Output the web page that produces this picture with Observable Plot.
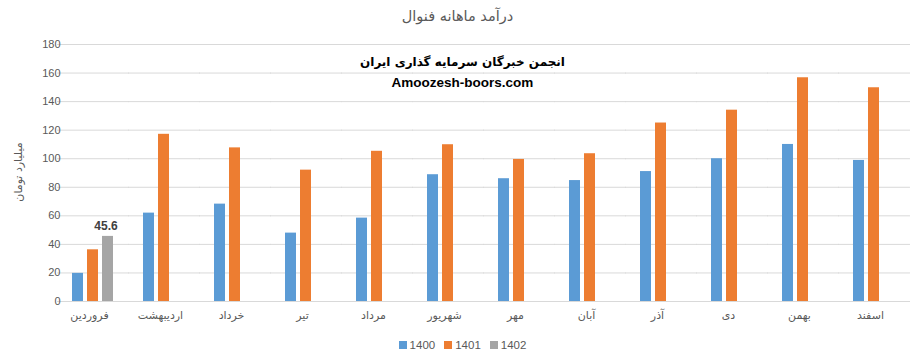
<!DOCTYPE html>
<html><head><meta charset="utf-8">
<script src="https://cdn.jsdelivr.net/npm/d3@7"></script>
<script src="https://cdn.jsdelivr.net/npm/@observablehq/plot@0.6"></script>
<style>
html,body{margin:0;padding:0;background:#fff;}
#wrap{position:relative;width:915px;height:361px;font-family:"Liberation Sans","DejaVu Sans",sans-serif;}
#title{height:30px;line-height:32px;text-align:center;font-size:14.5px;color:#595959;font-family:"DejaVu Sans",sans-serif;}
#legend{height:28px;display:flex;justify-content:center;align-items:center;gap:9px;font-size:11.5px;color:#595959;padding-left:10px;}
#legend span.sw{display:inline-block;width:8px;height:8px;margin-right:3px;}
.wm{position:absolute;left:0;width:925px;text-align:center;color:#000;font-weight:bold;}
#ylab{position:absolute;left:18px;top:172px;transform:translate(-50%,-50%) rotate(-90deg);font-size:11px;color:#595959;white-space:nowrap;font-family:"DejaVu Sans",sans-serif;}
</style></head>
<body>
<div id="wrap">
  <div id="title"></div>
  <div id="chart"></div>
  <div id="legend"></div>
  <div class="wm" id="wm1" style="top:55px;font-size:12px;font-family:'DejaVu Sans',sans-serif;"></div>
  <div class="wm" id="wm2" style="top:75px;font-size:13.5px;font-family:'Liberation Sans',sans-serif;"></div>
  <div id="ylab"></div>
</div>
<script>
const titleText = "درآمد ماهانه فنوال";
const yLabel = "میلیارد تومان";
const watermark1 = "انجمن خبرگان سرمایه گذاری ایران";
const watermark2 = "Amoozesh-boors.com";
const months = ["فروردین","اردیبهشت","خرداد","تیر","مرداد","شهریور","مهر","آبان","آذر","دی","بهمن","اسفند"];
const years = ["1400","1401","1402"];
const colors = ["#5B9BD5","#ED7D31","#A5A5A5"];
const v1400 = [19.7, 61.9, 68.2, 47.9, 58.4, 88.8, 86.0, 84.7, 91.0, 100.0, 110.0, 98.8];
const v1401 = [36.2, 117.1, 107.6, 92.0, 105.2, 109.8, 99.5, 103.5, 125.0, 134.0, 156.7, 149.7];
const v1402 = [45.6];
const yTicks = [0,20,40,60,80,100,120,140,160,180];

document.getElementById("title").textContent = titleText;
document.getElementById("ylab").textContent = yLabel;
document.getElementById("wm1").textContent = watermark1;
document.getElementById("wm2").textContent = watermark2;

const series = [v1400, v1401, v1402];
const rows = [];
months.forEach((m, i) => {
  series.forEach((s, k) => {
    if (s[i] != null) rows.push({month: m, year: years[k], value: s[i]});
  });
});

const W = 915, mL = 58, mR = 5;
const padIn = 0.38, padOut = 0.19;
const step = (W - mL - mR) / (months.length - padIn + 2 * padOut);
const gapHalf = step * padOut + 0.5;

const chart = Plot.plot({
  width: W, height: 301,
  marginTop: 14, marginBottom: 30, marginLeft: mL, marginRight: mR,
  style: {fontFamily: "'Liberation Sans','DejaVu Sans',sans-serif", fontSize: "11px", color: "#595959", background: "white"},
  fx: {domain: months, paddingInner: padIn, paddingOuter: padOut, label: null},
  x: {domain: years, paddingInner: 0.24, paddingOuter: 0, axis: null},
  y: {domain: [0, 180], label: null},
  color: {domain: years, range: colors},
  marks: [
    Plot.ruleY(yTicks, {stroke: "#d9d9d9", strokeWidth: 1, insetLeft: -gapHalf, insetRight: -gapHalf}),
    Plot.axisY(yTicks, {tickSize: 0, tickPadding: 11, label: null, fontSize: 11}),
    Plot.axisFx({anchor: "bottom", tickSize: 0, tickPadding: 10, label: null, fontSize: 11, fontFamily: "'DejaVu Sans',sans-serif", dx: -4}),
    Plot.barY(rows, {fx: "month", x: "year", y: "value", fill: "year"}),
    Plot.text(rows.filter(d => d.year === "1402"), {fx: "month", x: "year", y: "value", text: d => d.value.toFixed(1), dy: -10, dx: -2, fontWeight: "bold", fill: "#404040", fontSize: 12})
  ]
});
document.getElementById("chart").appendChild(chart);

const lg = document.getElementById("legend");
years.forEach((y, k) => {
  const item = document.createElement("div");
  item.innerHTML = `<span class="sw" style="background:${colors[k]}"></span>${y}`;
  lg.appendChild(item);
});
</script>
</body></html>
